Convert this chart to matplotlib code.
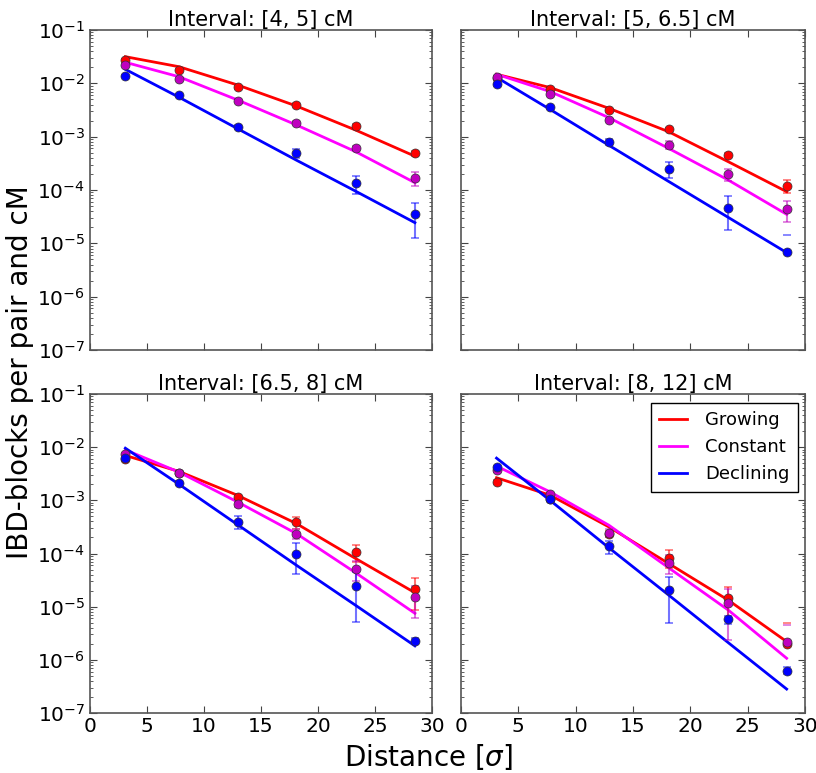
import numpy as np
import matplotlib
matplotlib.use("Agg")
import matplotlib.pyplot as plt

# ---------------- data ----------------
titles = ["Interval: [4, 5] cM", "Interval: [5, 6.5] cM",
          "Interval: [6.5, 8] cM", "Interval: [8, 12] cM"]
series = ["Growing", "Constant", "Declining"]

x_left = [3.1, 7.8, 12.95, 18.1, 23.3, 28.5]
x_right = [3.1, 7.8, 12.9, 18.1, 23.3, 28.4]

# Panel 1: [4, 5] cM
p1_grow_obs = [0.0274, 0.0178, 0.0084, 0.0040, 0.0016, 4.9e-4]
p1_grow_err = [1.5e-3, 1.0e-3, 5e-4, 2.5e-4, 1.2e-4, 6e-5]
p1_grow_fit = [0.0316, 0.0205, 0.0093, 0.00376, 0.00133, 4.3e-4]
p1_const_obs = [0.0221, 0.01205, 0.00473, 0.00183, 6.2e-4, 1.66e-4]
p1_const_err = [1.2e-3, 7e-4, 3e-4, 1.2e-4, 5e-5, 4.8e-5]
p1_const_fit = [0.0248, 0.0133, 0.00487, 0.00166, 5.24e-4, 1.37e-4]
p1_decl_obs = [0.0137, 0.00596, 0.00152, 4.94e-4, 1.33e-4, 3.5e-5]
p1_decl_err = [8e-4, 3e-4, 1e-4, 9e-5, 5e-5, 2.25e-5]
p1_decl_fit = [0.0183, 5.5e-3, 1.41e-3, 3.63e-4, 9.5e-5, 2.44e-5]

# Panel 2: [5, 6.5] cM
p2_grow_obs = [0.01277, 0.00772, 0.00316, 0.00137, 4.53e-4, 1.2e-4]
p2_grow_err = [6e-4, 4e-4, 2e-4, 1e-4, 4e-5, 3.2e-5]
p2_grow_fit = [0.0148, 0.0083, 0.0034, 0.00124, 3.4e-4, 9.3e-5]
p2_const_obs = [0.01296, 0.0063, 0.00205, 6.98e-4, 1.97e-4, 4.4e-5]
p2_const_err = [6e-4, 3e-4, 1.2e-4, 1.2e-4, 5e-5, 1.9e-5]
p2_const_fit = [0.0148, 0.00698, 0.00227, 6.04e-4, 1.54e-4, 3.5e-5]
p2_decl_obs = [0.00957, 0.00355, 7.9e-4, 2.48e-4, 4.67e-5, 6.9e-6]
p2_decl_err = [5e-4, 2e-4, 1e-4, 8e-5, 2.9e-5, 7.6e-6]
p2_decl_fit = [0.01296, 3.21e-3, 6.88e-4, 1.45e-4, 3.07e-5, 6.7e-6]

# Panel 3: [6.5, 8] cM
p3_grow_obs = [6.04e-3, 3.3e-3, 1.155e-3, 3.93e-4, 1.07e-4, 2.14e-5]
p3_grow_err = [4e-4, 2e-4, 1e-4, 1e-4, 3.7e-5, 1.27e-5]
p3_grow_fit = [6.98e-3, 3.5e-3, 1.24e-3, 3.66e-4, 8.05e-5, 1.83e-5]
p3_const_obs = [7.29e-3, 3.3e-3, 8.4e-4, 2.37e-4, 5.08e-5, 1.5e-5]
p3_const_err = [4e-4, 2e-4, 8e-5, 5e-5, 2e-5, 9e-6]
p3_const_fit = [8.9e-3, 3.4e-3, 9.3e-4, 2.37e-4, 4.34e-5, 7.5e-6]
p3_decl_obs = [6.3e-3, 2.14e-3, 3.93e-4, 1.0e-4, 2.48e-5, 2.3e-6]
p3_decl_err = [3e-4, 2e-4, 1.1e-4, 5.8e-5, 1.96e-5, 3e-7]
p3_decl_fit = [9.57e-3, 2.01e-3, 3.48e-4, 6.03e-5, 1.06e-5, 1.83e-6]

# Panel 4: [8, 12] cM
p4_grow_obs = [2.21e-3, 1.07e-3, 2.37e-4, 8.4e-5, 1.47e-5, 1.97e-6]
p4_grow_err = [2e-4, 8e-5, 3e-5, 3.1e-5, 9e-6, 2.9e-6]
p4_grow_fit = [2.66e-3, 1.24e-3, 3.16e-4, 6.5e-5, 1.33e-5, 2.2e-6]
p4_const_obs = [3.76e-3, 1.3e-3, 2.48e-4, 6.7e-5, 1.19e-5, 2.2e-6]
p4_const_err = [3e-4, 1e-4, 4e-5, 2.5e-5, 9.5e-6, 2.4e-6]
p4_const_fit = [4.4e-3, 1.43e-3, 3.4e-4, 5.4e-5, 8.66e-6, 1.07e-6]
p4_decl_obs = [4.2e-3, 1.05e-3, 1.37e-4, 2.05e-5, 5.8e-6, 6.3e-7]
p4_decl_err = [3e-4, 8e-5, 3.7e-5, 1.55e-5, 1e-6, 1e-7]
p4_decl_fit = [6.22e-3, 9.86e-4, 1.28e-4, 1.66e-5, 2.11e-6, 2.82e-7]

panels = [
    (x_left, [(p1_grow_obs, p1_grow_err, p1_grow_fit),
              (p1_const_obs, p1_const_err, p1_const_fit),
              (p1_decl_obs, p1_decl_err, p1_decl_fit)]),
    (x_right, [(p2_grow_obs, p2_grow_err, p2_grow_fit),
               (p2_const_obs, p2_const_err, p2_const_fit),
               (p2_decl_obs, p2_decl_err, p2_decl_fit)]),
    (x_left, [(p3_grow_obs, p3_grow_err, p3_grow_fit),
              (p3_const_obs, p3_const_err, p3_const_fit),
              (p3_decl_obs, p3_decl_err, p3_decl_fit)]),
    (x_right, [(p4_grow_obs, p4_grow_err, p4_grow_fit),
               (p4_const_obs, p4_const_err, p4_const_fit),
               (p4_decl_obs, p4_decl_err, p4_decl_fit)]),
]

line_colors = ["#ff0000", "#ff00ff", "#0000ff"]
marker_colors = ["#ff0000", "#bf00bf", "#0000ff"]

# ---------------- figure ----------------
plt.rcParams["font.family"] = ["DejaVu Sans"]
fig = plt.figure(figsize=(8.16, 7.73), dpi=100)
W, H = 816, 773
boxes = [(90, 30, 432, 350), (461, 30, 805, 350),
         (90, 394, 432, 713), (461, 394, 805, 713)]
axes = []
for (l, t, r, b) in boxes:
    axes.append(fig.add_axes([l / W, 1 - b / H, (r - l) / W, (b - t) / H]))

for i, (ax, (xs, data)) in enumerate(zip(axes, panels)):
    xs = np.asarray(xs)
    for j, (obs, err, fit) in enumerate(data):
        obs = np.asarray(obs)
        err = np.asarray(err)
        ax.plot(xs, fit, color=line_colors[j], lw=2, label=series[j], zorder=2)
        ok = obs - err > 0
        ax.errorbar(xs[ok], obs[ok], yerr=err[ok], fmt="none",
                    ecolor=marker_colors[j], alpha=0.55, elinewidth=1.5,
                    capsize=3, capthick=1.2, zorder=3)
        # only upper cap visible where lower bound is non-positive
        ax.plot(xs[~ok], (obs + err)[~ok], ls="none", marker="_", ms=6,
                mew=1.2, color=marker_colors[j], alpha=0.55, zorder=3)
        ax.plot(xs, obs, ls="none", marker="o", ms=6.5,
                mfc=marker_colors[j], mec="#333333", mew=0.5, zorder=4)
    ax.set_yscale("log")
    ax.set_ylim(1e-7, 1e-1)
    ax.set_xlim(0, 30)
    ax.set_xticks([0, 5, 10, 15, 20, 25, 30])
    ax.set_title(titles[i], fontsize=15, pad=3)
    ax.tick_params(which="both", direction="in", top=True, right=True,
                   labelsize=14.5, color="#444444")
    ax.tick_params(which="major", length=5, width=0.8)
    ax.tick_params(which="minor", length=2.5, width=0.6)
    ax.tick_params(axis="x", pad=3)
    for s in ax.spines.values():
        s.set_color("#555555")
        s.set_linewidth(1.2)
    if i < 2:
        ax.tick_params(labelbottom=False)
    if i % 2 == 1:
        ax.tick_params(labelleft=False)

leg = axes[3].legend(loc="upper right", bbox_to_anchor=(0.979, 0.971),
                     borderaxespad=0, fontsize=13, handlelength=1.55,
                     handletextpad=1.0, labelspacing=0.5, fancybox=False,
                     framealpha=1, edgecolor="black", borderpad=0.45)
leg.get_frame().set_linewidth(1.0)

fig.text(0.025, (1 - 372 / H), "IBD-blocks per pair and cM", rotation=90,
         ha="center", va="center", fontsize=20)
fig.text(429 / W, 1 - 757 / H, r"Distance [$\sigma$]", ha="center",
         va="center", fontsize=20)

fig.savefig("out.png", dpi=100, facecolor="white")
